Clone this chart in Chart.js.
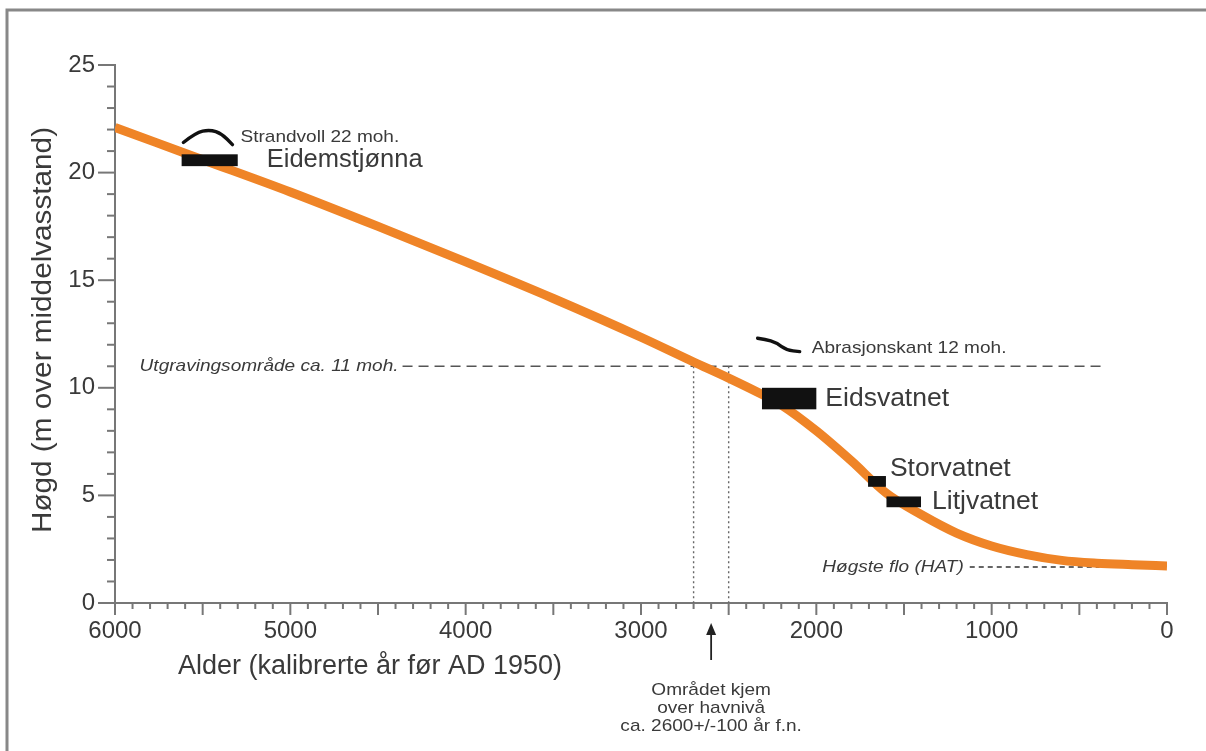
<!DOCTYPE html>
<html>
<head>
<meta charset="utf-8">
<script src="https://cdn.jsdelivr.net/npm/chart.js@4/dist/chart.umd.min.js"></script>
<style>
  html, body { margin: 0; padding: 0; background: #fff; }
  #wrap { width: 1206px; height: 751px; position: relative; }
  canvas { display: block; }
</style>
</head>
<body>
<div id="wrap"><canvas id="c" width="1206" height="751"></canvas></div>
<script>
// Relative sea-level curve: age (cal. years BP) and height (m above mean sea level)
const ages    = [6000, 5500, 5000, 4500, 4000, 3500, 3000, 2700, 2500, 2300, 2200, 2000, 1800, 1600, 1400, 1200, 1000, 800, 600, 400, 200, 0];
const heights = [22.1, 20.6, 19.1, 17.5, 15.85, 14.15, 12.35, 11.2, 10.45, 9.65, 9.2, 8.0, 6.6, 5.1, 4.1, 3.25, 2.65, 2.25, 1.98, 1.85, 1.78, 1.72];

// Axis ticks
const xTickLabels = [6000, 5000, 4000, 3000, 2000, 1000, 0];
const yTickLabels = [0, 5, 10, 15, 20, 25];

// Dated lake basins: name, age range, height range
const lakeNames   = ['Eidemstjønna', 'Eidsvatnet', 'Storvatnet', 'Litjvatnet'];
const lakeAgeFrom = [5620, 2310, 1705, 1600];
const lakeAgeTo   = [5300, 2000, 1603, 1403];
const lakeHLow    = [20.3, 9.0, 5.4, 4.45];
const lakeHHigh   = [20.85, 10.0, 5.9, 4.95];

// Shore features
const beachRidgeAges    = [5610, 5540, 5460, 5390, 5330];   // Strandvoll 22 moh.
const beachRidgeHeights = [21.4, 21.85, 22.0, 21.8, 21.3];
const abrasionAges      = [2335, 2290, 2230, 2170, 2095];   // Abrasjonskant 12 moh.
const abrasionHeights   = [12.3, 12.25, 12.1, 11.75, 11.68];

// Reference levels
const excavationLevel = 11;          // Utgravingsområde ca. 11 moh.
const excavationFrom  = 4360, excavationTo = 370;
const hatLevel = 1.67;               // Høgste flo (HAT)
const hatFrom = 1125, hatTo = 385;
const emergenceAge = 2600, emergenceSpread = 100;

const FONT = '"Liberation Sans", Arial, Helvetica, sans-serif';
const TEXT = '#3a3a3a';
const SMALL = 17, WIDE = 1.12;

function txt(ctx, s, x, y, size, opts) {
  opts = opts || {};
  ctx.save();
  ctx.font = (opts.italic ? 'italic ' : '') + size + 'px ' + FONT;
  ctx.fillStyle = opts.color || TEXT;
  ctx.textAlign = opts.align || 'left';
  ctx.textBaseline = 'middle';
  ctx.translate(x, y);
  if (opts.rot) ctx.rotate(opts.rot);
  ctx.scale(opts.sx || 1, opts.sy || 1);
  ctx.fillText(s, 0, 0);
  ctx.restore();
}

const annotations = {
  id: 'annotations',
  beforeDatasetsDraw(chart) {
    const ctx = chart.ctx, xs = chart.scales.x, ys = chart.scales.y;
    const y0 = ys.getPixelForValue(0);
    ctx.save();
    // excavation level, dashed
    const yE = ys.getPixelForValue(excavationLevel);
    ctx.strokeStyle = '#555'; ctx.lineWidth = 1.6; ctx.setLineDash([10, 6]);
    ctx.beginPath(); ctx.moveTo(xs.getPixelForValue(excavationFrom), yE); ctx.lineTo(xs.getPixelForValue(excavationTo), yE); ctx.stroke();
    // emergence window, dotted
    ctx.strokeStyle = '#666'; ctx.lineWidth = 1.4; ctx.setLineDash([2, 3]);
    [emergenceAge + emergenceSpread, emergenceAge - emergenceSpread].forEach(a => {
      const px = xs.getPixelForValue(a);
      ctx.beginPath(); ctx.moveTo(px, yE); ctx.lineTo(px, y0); ctx.stroke();
    });
    // HAT
    const yH = ys.getPixelForValue(hatLevel);
    ctx.strokeStyle = '#333'; ctx.lineWidth = 1.4; ctx.setLineDash([5, 4]);
    ctx.beginPath(); ctx.moveTo(xs.getPixelForValue(hatFrom), yH); ctx.lineTo(xs.getPixelForValue(hatTo), yH); ctx.stroke();
    ctx.restore();
  },
  afterDatasetsDraw(chart) {
    const ctx = chart.ctx, xs = chart.scales.x, ys = chart.scales.y;
    const X = v => xs.getPixelForValue(v), Y = v => ys.getPixelForValue(v);
    ctx.save();
    // lake basins
    ctx.fillStyle = '#111';
    lakeNames.forEach((n, i) => {
      const x1 = X(lakeAgeFrom[i]), x2 = X(lakeAgeTo[i]);
      const y1 = Y(lakeHHigh[i]), y2 = Y(lakeHLow[i]);
      ctx.fillRect(x1, y1, x2 - x1, y2 - y1);
    });
    // shore feature symbols
    function curve(a, h) {
      ctx.beginPath();
      ctx.moveTo(X(a[0]), Y(h[0]));
      for (let i = 1; i < a.length - 1; i++) {
        const xc = (X(a[i]) + X(a[i + 1])) / 2, yc = (Y(h[i]) + Y(h[i + 1])) / 2;
        ctx.quadraticCurveTo(X(a[i]), Y(h[i]), xc, yc);
      }
      ctx.lineTo(X(a[a.length - 1]), Y(h[h.length - 1]));
      ctx.stroke();
    }
    ctx.strokeStyle = '#111'; ctx.lineWidth = 3.4; ctx.lineCap = 'round'; ctx.lineJoin = 'round';
    curve(beachRidgeAges, beachRidgeHeights);
    curve(abrasionAges, abrasionHeights);
    ctx.restore();

    // labels
    txt(ctx, 'Strandvoll 22 moh.', X(beachRidgeAges[4]) + 8, Y(21.62), SMALL, { sx: WIDE });
    txt(ctx, 'Abrasjonskant 12 moh.', X(abrasionAges[4]) + 12, Y(11.82), SMALL, { sx: WIDE });
    txt(ctx, lakeNames[0], X(lakeAgeTo[0]) + 29, Y(20.58), 25.5);
    txt(ctx, lakeNames[1], X(lakeAgeTo[1]) + 9, Y(9.5), 26.5);
    txt(ctx, lakeNames[2], X(lakeAgeTo[2]) + 4, Y(6.25), 26.5);
    txt(ctx, lakeNames[3], X(lakeAgeTo[3]) + 11, Y(4.72), 26.5);
    txt(ctx, 'Utgravingsområde ca. 11 moh.', X(excavationFrom) - 4, Y(excavationLevel), SMALL, { italic: true, align: 'right', sx: WIDE });
    txt(ctx, 'Høgste flo (HAT)', X(hatFrom) - 6, Y(hatLevel), SMALL, { italic: true, align: 'right', sx: WIDE });

    // emergence arrow below the age axis
    const xa = X(emergenceAge), yb = Y(0);
    ctx.save();
    ctx.strokeStyle = '#222'; ctx.fillStyle = '#222'; ctx.lineWidth = 1.8;
    ctx.beginPath(); ctx.moveTo(xa, yb + 57); ctx.lineTo(xa, yb + 28); ctx.stroke();
    ctx.beginPath(); ctx.moveTo(xa, yb + 20); ctx.lineTo(xa - 5, yb + 32); ctx.lineTo(xa + 5, yb + 32); ctx.closePath(); ctx.fill();
    ctx.restore();
    txt(ctx, 'Området kjem', xa, yb + 87, SMALL, { align: 'center', sx: WIDE });
    txt(ctx, 'over havnivå', xa, yb + 105, SMALL, { align: 'center', sx: WIDE });
    txt(ctx, 'ca. 2600+/-100 år f.n.', xa, yb + 123, SMALL, { align: 'center', sx: WIDE });
  },
  afterDraw(chart) {
    const ctx = chart.ctx, xs = chart.scales.x, ys = chart.scales.y;
    const left = xs.getPixelForValue(6000), bottom = ys.getPixelForValue(0);
    ctx.save();
    ctx.strokeStyle = '#777'; ctx.lineWidth = 2;
    // y ticks: majors every 5, minors every 1
    for (let v = 0; v <= 25; v++) {
      const py = ys.getPixelForValue(v);
      const len = v % 5 === 0 ? 17 : 8;
      ctx.beginPath(); ctx.moveTo(left - len, py); ctx.lineTo(left, py); ctx.stroke();
    }
    // x ticks: majors every 500, minors every 100
    for (let a = 0; a <= 6000; a += 100) {
      const px = xs.getPixelForValue(a);
      const len = a % 500 === 0 ? 12 : 6;
      ctx.beginPath(); ctx.moveTo(px, bottom); ctx.lineTo(px, bottom + len); ctx.stroke();
    }
    ctx.restore();
    // axis titles
    txt(ctx, 'Alder (kalibrerte år før AD 1950)', 370, 667, 27, { align: 'center' });
    txt(ctx, 'Høgd (m over middelvasstand)', 44, 330, 27, { align: 'center', rot: -Math.PI / 2, sx: 1.1 });
    // outer frame
    ctx.save();
    ctx.strokeStyle = '#888'; ctx.lineWidth = 3;
    ctx.beginPath(); ctx.moveTo(7, 751); ctx.lineTo(7, 10); ctx.lineTo(1206, 10); ctx.stroke();
    ctx.restore();
  }
};

new Chart(document.getElementById('c'), {
  type: 'line',
  data: {
    datasets: [{
      data: ages.map((a, i) => ({ x: a, y: heights[i] })),
      borderColor: '#EF8427',
      borderWidth: 9,
      pointRadius: 0,
      fill: false,
      cubicInterpolationMode: 'monotone'
    }]
  },
  options: {
    responsive: false,
    animation: false,
    events: [],
    layout: { padding: { left: 0, top: 65, right: 39, bottom: 0 } },
    plugins: { legend: { display: false }, tooltip: { enabled: false } },
    scales: {
      x: {
        type: 'linear', reverse: true, min: 0, max: 6000,
        afterBuildTicks: s => { s.ticks = xTickLabels.map(v => ({ value: v })); },
        afterFit: s => { s.height = 148; s.paddingLeft = 0; s.paddingRight = 0; },
        ticks: { color: TEXT, font: { family: FONT, size: 24 }, padding: 14, maxRotation: 0, autoSkip: false, callback: v => String(v) },
        grid: { drawOnChartArea: false, drawTicks: false },
        border: { color: '#777', width: 2 }
      },
      y: {
        type: 'linear', min: 0, max: 25,
        afterBuildTicks: s => { s.ticks = yTickLabels.map(v => ({ value: v })); },
        afterFit: s => { s.width = 115; s.paddingTop = 0; s.paddingBottom = 0; },
        ticks: { color: TEXT, font: { family: FONT, size: 24 }, padding: 20, callback: v => String(v) },
        grid: { drawOnChartArea: false, drawTicks: false },
        border: { color: '#777', width: 2 }
      }
    }
  },
  plugins: [annotations]
});
</script>
</body>
</html>
